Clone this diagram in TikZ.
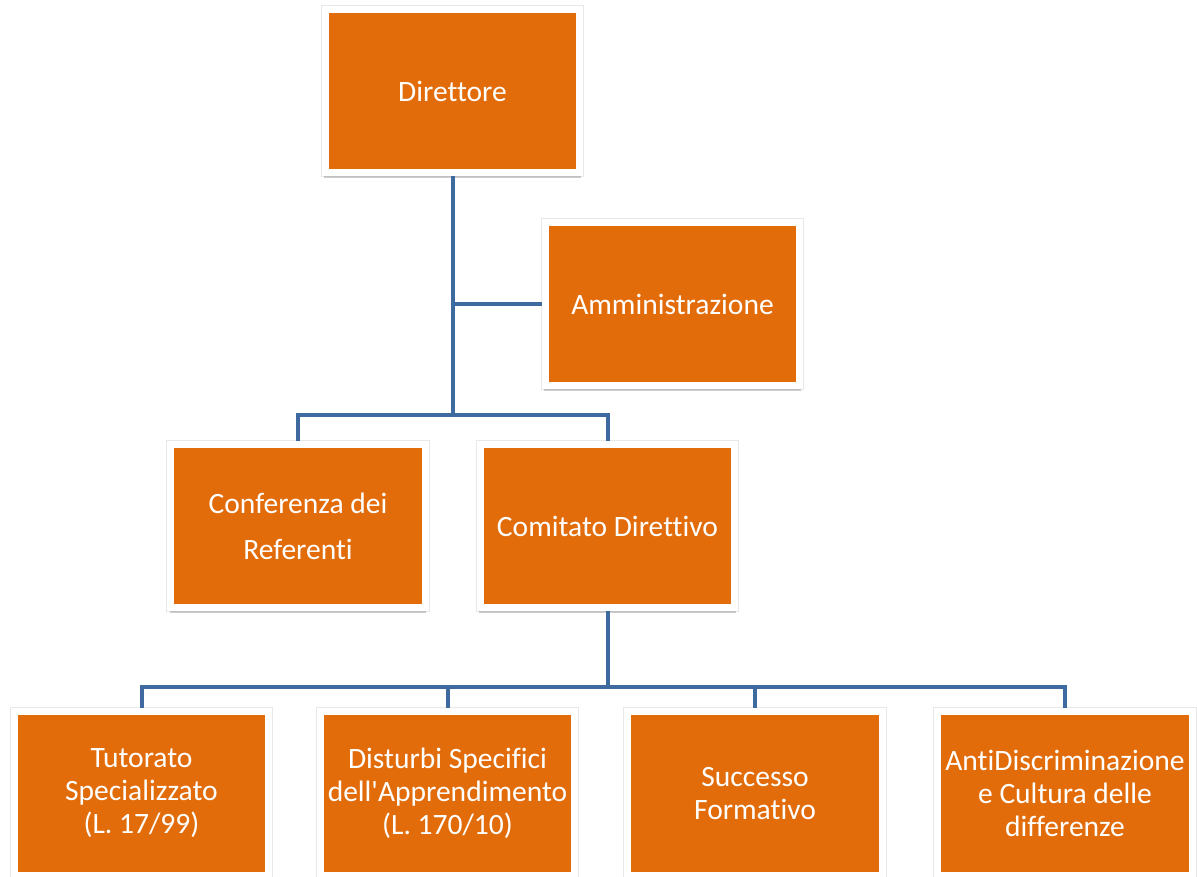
\documentclass[tikz,border=0pt]{standalone}
\usepackage{fontspec}
\setmainfont{Carlito}[Ligatures={TeX,NoCommon}]
\usetikzlibrary{shadows, positioning, calc}
\definecolor{boxorange}{RGB}{226,108,10}
\definecolor{linkblue}{RGB}{62,106,160}

\begin{document}
\begin{tikzpicture}[x=0.025cm, y=-0.025cm,
    unit/.style={rectangle, fill=boxorange, draw=white, line width=0.175cm,
      minimum width=6.35cm, minimum height=4.075cm, inner sep=2pt,
      align=center, text=white, font=\fontsize{21}{23.5}\selectfont,
      preaction={draw=black!9, line width=0.235cm},
      drop shadow={shadow xshift=0pt, shadow yshift=-3.5pt, shadow scale=1.01,
        opacity=0.5, fill=black!40}},
    link/.style={draw=linkblue, line width=0.1cm}]

    % --- Canvas ---
    \useasboundingbox (0,0) rectangle (1197,876);

    % --- Top level ---
    \node[unit] (dir) at (452.5,91) {Direttore};
    \node[unit] (amm) at (672.5,304) {Amministrazione};

    % --- Second level ---
    \node[unit] (conf) at (298,526) {Conferenza dei\\[9pt]Referenti};
    \node[unit] (com) at (607.5,526) {Comitato Direttivo};

    % --- Working groups ---
    \node[unit] (tut) at (141.5,793.5) {Tutorato\\Specializzato\\(L. 17/99)};
    \node[unit] (dis) at (447.5,793.5) {Disturbi Specifici\\dell\textquotesingle Apprendimento\\(L. 170/10)};
    \node[unit] (suc) at (755,793.5) {Successo\\Formativo};
    \node[unit] (anti) at (1065,793.5) {AntiDiscriminazione\\e Cultura delle\\differenze};

    % --- Connectors ---
    \coordinate (split) at (dir.south |- 0,415);
    \coordinate (tap) at (dir.south |- amm.west);
    \coordinate (hub) at (com.south |- 0,687);

    \draw[link] (dir.south) -- (split);
    \draw[link] (tap) -- (amm.west);
    \foreach \n in {conf, com} {
      \draw[link] (split) -| (\n.north);
    }
    \draw[link] (com.south) -- (hub);
    \foreach \n in {tut, dis, suc, anti} {
      \draw[link] (hub) -| (\n.north);
    }

\end{tikzpicture}
\end{document}
